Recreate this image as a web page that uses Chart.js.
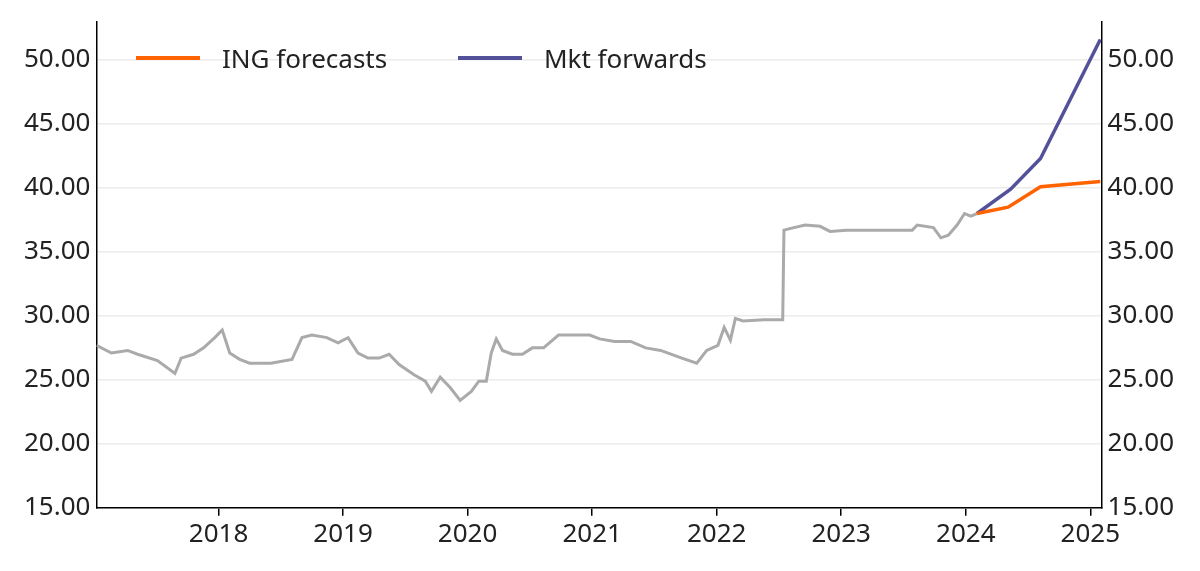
<!DOCTYPE html>
<html>
<head>
<meta charset="utf-8">
<script src="https://cdn.jsdelivr.net/npm/chart.js@4"></script>
<style>
  body { margin: 0; background: #fff; font-family: "Noto Sans", sans-serif; }
  #wrap { position: relative; width: 1200px; height: 571px; }
  .legend { position: absolute; top: 40px; font-size: 26px; color: #222; display: flex; align-items: center; }
  .legend span.line { display: inline-block; width: 64px; height: 4px; margin-right: 22px; }
</style>
</head>
<body>
<div id="wrap">
  <canvas id="chart" width="1200" height="571"></canvas>
  <div class="legend" style="left:136px"><span class="line" style="background:#ff6200"></span>ING forecasts</div>
  <div class="legend" style="left:458px"><span class="line" style="background:#525199"></span>Mkt forwards</div>
</div>
<script>
// history (fractional years, price)
const histYears = [2017.02, 2017.14, 2017.27, 2017.35, 2017.51, 2017.65, 2017.70, 2017.80, 2017.88, 2017.97,
  2018.03, 2018.09, 2018.17, 2018.25, 2018.42, 2018.59, 2018.67, 2018.75, 2018.87, 2018.96,
  2019.04, 2019.12, 2019.20, 2019.29, 2019.37, 2019.45, 2019.57, 2019.66, 2019.71, 2019.78, 2019.86, 2019.94,
  2020.03, 2020.09, 2020.15, 2020.19, 2020.23, 2020.28, 2020.36, 2020.44, 2020.52, 2020.61, 2020.73, 2020.85, 2020.98,
  2021.06, 2021.18, 2021.31, 2021.43, 2021.55, 2021.72, 2021.84, 2021.92,
  2022.01, 2022.06, 2022.11, 2022.15, 2022.21, 2022.38, 2022.53, 2022.54, 2022.62, 2022.71, 2022.83, 2022.91,
  2023.04, 2023.28, 2023.57, 2023.61, 2023.74, 2023.80, 2023.86, 2023.93, 2023.99, 2024.04, 2024.09];
const histValues = [27.7, 27.1, 27.3, 27.0, 26.5, 25.5, 26.7, 27.0, 27.5, 28.3,
  28.9, 27.1, 26.6, 26.3, 26.3, 26.6, 28.3, 28.5, 28.3, 27.9,
  28.3, 27.1, 26.7, 26.7, 27.0, 26.2, 25.4, 24.9, 24.1, 25.2, 24.4, 23.4,
  24.1, 24.9, 24.9, 27.1, 28.2, 27.3, 27.0, 27.0, 27.5, 27.5, 28.5, 28.5, 28.5,
  28.2, 28.0, 28.0, 27.5, 27.3, 26.7, 26.3, 27.3,
  27.7, 29.1, 28.1, 29.8, 29.6, 29.7, 29.7, 36.7, 36.9, 37.1, 37.0, 36.6,
  36.7, 36.7, 36.7, 37.1, 36.9, 36.1, 36.3, 37.1, 38.0, 37.8, 38.0];

const ingYears = [2024.09, 2024.34, 2024.60, 2025.08];
const ingValues = [38.0, 38.5, 40.1, 40.5];
const fwdYears = [2024.09, 2024.36, 2024.60, 2025.08];
const fwdValues = [38.0, 39.9, 42.3, 51.6];

const yTicks = [15, 20, 25, 30, 35, 40, 45, 50];
const xTicks = [2018, 2019, 2020, 2021, 2022, 2023, 2024, 2025];

const pts = (xs, ys) => xs.map((x, i) => ({x: x, y: ys[i]}));
const font = { family: "Noto Sans", size: 26 };

const yAxis = (pos) => ({
  position: pos, min: 15, max: 53,
  afterBuildTicks: (ax) => { ax.ticks = yTicks.map(v => ({value: v})); },
  ticks: { font: font, color: '#222', callback: v => v.toFixed(2), padding: 6 },
  grid: { display: pos === 'left', color: '#ececec', drawTicks: false, lineWidth: 1.5 },
  border: { display: true, color: '#000', width: 1.5 }
});

new Chart(document.getElementById('chart'), {
  type: 'line',
  data: {
    datasets: [
      { data: pts(fwdYears, fwdValues), borderColor: '#525199', borderWidth: 3.5, pointRadius: 0, order: 1 },
      { data: pts(ingYears, ingValues), borderColor: '#ff6200', borderWidth: 3.5, pointRadius: 0, order: 0 },
      { data: pts(histYears, histValues), borderColor: '#aaaaaa', borderWidth: 3, pointRadius: 0, order: 2 }
    ]
  },
  options: {
    responsive: false,
    animation: false,
    layout: { padding: { left: 18, right: 20, top: 18, bottom: 18 } },
    plugins: { legend: { display: false }, tooltip: { enabled: false } },
    scales: {
      x: {
        type: 'linear', min: 2017.02, max: 2025.09,
        afterBuildTicks: (ax) => { ax.ticks = xTicks.map(v => ({value: v})); },
        ticks: { font: font, color: '#222', callback: v => String(v), maxRotation: 0 },
        grid: { drawOnChartArea: false, color: '#000', tickLength: 8, lineWidth: 1.5 },
        border: { display: true, color: '#000', width: 1.5 }
      },
      y: yAxis('left'),
      y2: yAxis('right')
    }
  }
});
</script>
</body>
</html>
